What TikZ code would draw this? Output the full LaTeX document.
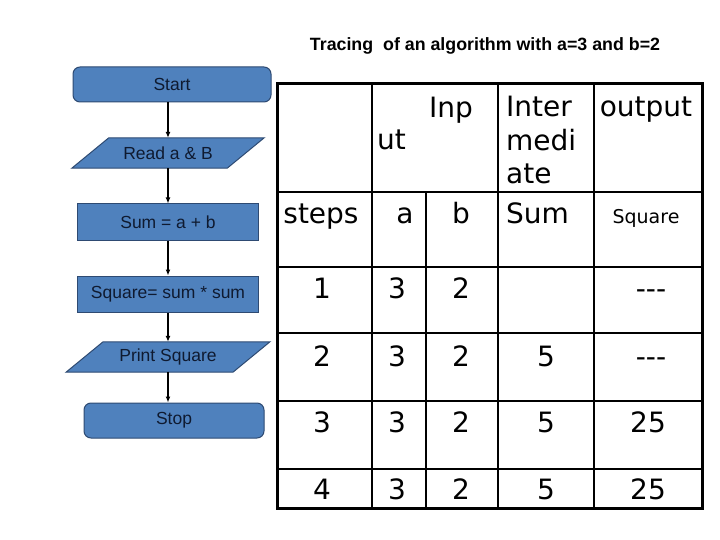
\documentclass[tikz,border=0pt]{standalone}
\usepackage{fontspec}
\setmainfont{Liberation Sans}
\newfontfamily\tabfont{DejaVu Sans}
\usetikzlibrary{arrows.meta}
\pgfdeclarelayer{background}
\pgfsetlayers{background,main}
\definecolor{boxfill}{HTML}{4F81BD}
\definecolor{boxline}{HTML}{2E4A72}
\definecolor{boxtext}{HTML}{0F1A30}
\begin{document}
\begin{tikzpicture}[x=1pt,y=-1pt,
  ffont/.style={font=\fontsize{17.5}{20}\selectfont},
  fbox/.style={draw=boxline, fill=boxfill, line width=1pt, text=boxtext, ffont, inner sep=0pt},
  term/.style={fbox, rounded corners=7pt},
  proc/.style={fbox},
  iobox/.style={inner sep=0pt, text=boxtext, ffont},
  ioshape/.style={draw=boxline, fill=boxfill, line width=1pt},
  flow/.style={line width=2pt, -{Latex[length=6pt,width=5pt]}},
  cell/.style={inner sep=0pt, font=\tabfont\fontsize{28}{33}\selectfont, anchor=base},
  smallcell/.style={inner sep=0pt, font=\tabfont\fontsize{19}{22}\selectfont, anchor=base},
  outer/.style={line width=3pt},
  inner/.style={line width=2pt}
]
\useasboundingbox (0,0) rectangle (720,540);
\begin{pgfonlayer}{background}
\fill[white] (0,0) rectangle (720,540);
\end{pgfonlayer}

% title
\node[font=\bfseries\fontsize{17.8}{20}\selectfont, anchor=base, inner sep=0pt] (title) at (485,51) {Tracing\ \ of an algorithm with a=3 and b=2};

% flowchart
\node[term, minimum width=198pt, minimum height=35pt] (start) at (172,84.5) {Start};
\node[iobox, minimum width=155pt, minimum height=30pt] (read) at (168,153) {Read a \& B};
\node[proc, minimum width=181pt, minimum height=36pt] (sum) at (168,222) {Sum = a + b};
\node[proc, minimum width=181pt, minimum height=36pt] (square) at (168,294) {Square= sum * sum};
\node[iobox, minimum width=166.5pt, minimum height=30pt] (print) at (168,357) {Print Square};
\node[term, minimum width=180pt, minimum height=35pt] (stop) at (174,420.5) {Stop};

\begin{pgfonlayer}{background}
\draw[ioshape] ([xshift=-18.5pt]read.south west) -- ([xshift=-18.5pt]read.south east)
  -- ([xshift=18.5pt]read.north east) -- ([xshift=18.5pt]read.north west) -- cycle;
\draw[ioshape] ([xshift=-18.5pt]print.south west) -- ([xshift=-18.5pt]print.south east)
  -- ([xshift=18.5pt]print.north east) -- ([xshift=18.5pt]print.north west) -- cycle;
\end{pgfonlayer}

\draw[flow] (start.south -| read.north) -- (read.north);
\draw[flow] (read.south) -- (sum.north);
\draw[flow] (sum.south) -- (square.north);
\draw[flow] (square.south) -- (print.north);
\draw[flow] (print.south) -- (print.south |- stop.north);

% table grid
\draw[outer] (277,84) rectangle (702,508);
\foreach \yy in {192,267,333,401,469} \draw[inner] (277,\yy) -- (702,\yy);
\foreach \xx in {372,498,594} \draw[inner] (\xx,84) -- (\xx,508);
\draw[inner] (426,192) -- (426,508);

% header
\node[cell, anchor=base west] (inp) at (429,118) {Inp};
\node[cell, anchor=base west] (ut) at (377,150) {ut};
\node[cell, anchor=base west] (inter) at (506,117) {Inter};
\node[cell, anchor=base west] (medi) at (506,150.5) {medi};
\node[cell, anchor=base west] (ate) at (506,184) {ate};
\node[cell] (output) at (646,117) {output};
\node[cell] (steps) at (321,223) {steps};
\node[cell] (ha) at (405,223) {a};
\node[cell] (hb) at (461,223) {b};
\node[cell, anchor=base west] (hsum) at (506,223) {Sum};
\node[smallcell] (hsq) at (646,223) {Square};

% rows
\node[cell] (s1) at (322,298) {1};
\node[cell] (a1) at (397,298) {3};
\node[cell] (b1) at (461,298) {2};
\node[cell] (q1) at (651,298) {\hbox{-}\hbox{-}\hbox{-}};

\node[cell] (s2) at (322,366) {2};
\node[cell] (a2) at (397,366) {3};
\node[cell] (b2) at (461,366) {2};
\node[cell] (m2) at (546,366) {5};
\node[cell] (q2) at (651,366) {\hbox{-}\hbox{-}\hbox{-}};

\node[cell] (s3) at (322,432) {3};
\node[cell] (a3) at (397,432) {3};
\node[cell] (b3) at (461,432) {2};
\node[cell] (m3) at (546,432) {5};
\node[cell] (q3) at (648,432) {25};

\node[cell] (s4) at (322,499) {4};
\node[cell] (a4) at (397,499) {3};
\node[cell] (b4) at (461,499) {2};
\node[cell] (m4) at (546,499) {5};
\node[cell] (q4) at (648,499) {25};
\end{tikzpicture}
\end{document}
